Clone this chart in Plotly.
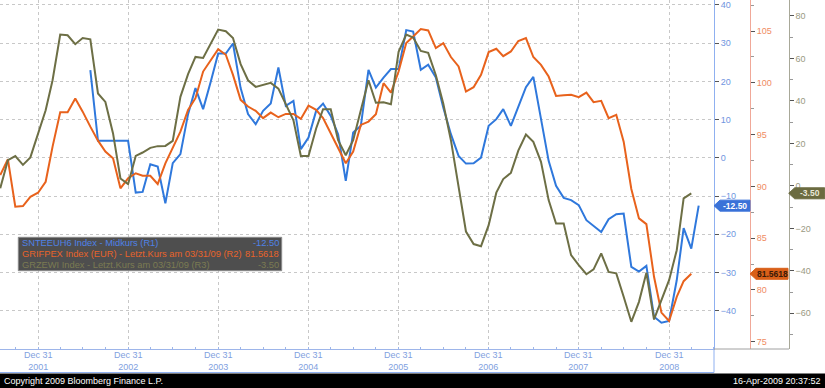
import pandas as pd
import plotly.graph_objects as go

# ---------------- data (monthly, month-end) ----------------
grifpex = [  # R2, Jul 2001 - Mar 2009
    91.10, 92.62, 88.04, 88.10, 89.00, 89.39,
    90.45, 93.84, 97.17, 97.17, 98.48, 97.22, 95.77, 94.42, 93.36, 92.72, 89.82, 90.78,
    91.27, 91.03, 91.03, 90.23, 92.23, 93.78, 95.29, 97.39, 98.52, 101.09, 102.22, 103.26,
    102.71, 100.77, 98.36, 97.71, 97.29, 96.59, 97.13, 96.68, 97.00, 97.00, 96.52, 97.80,
    97.39, 96.59, 95.14, 93.68, 92.23, 93.36, 95.94, 96.26, 96.97, 99.97, 99.06, 101.09,
    103.84, 104.48, 105.19, 105.06, 103.36, 103.84, 102.49, 101.58, 99.16, 99.58, 100.77, 102.97,
    103.29, 102.58, 103.03, 104.04, 104.32, 102.49, 101.74, 100.61, 98.74, 98.81, 98.84, 98.62,
    99.06, 98.13, 98.26, 96.59, 96.91, 94.32, 89.75, 86.91, 86.36, 81.27, 77.82, 77.01,
    79.33, 80.85, 81.5618,
]
grzewi = [  # R3, Jul 2001 - Mar 2009
    -1.1, 12.1, 14.0, 9.9, 13.4, 24.8,
    35.6, 49.7, 71.2, 70.9, 66.7, 69.6, 69.0, 43.5, 39.5, 24.7, 3.5, 0.8,
    14.1, 15.7, 17.9, 18.7, 18.8, 21.2, 41.9, 52.6, 60.7, 60.2, 67.0, 73.6,
    72.8, 69.6, 57.3, 49.7, 46.6, 47.4, 48.5, 45.8, 38.8, 30.9, 14.1, 14.1,
    27.0, 36.1, 36.1, 21.5, 14.4, 21.5, 35.6, 49.7, 39.1, 39.4, 38.4, 63.1,
    71.2, 69.8, 63.5, 62.6, 52.1, 38.8, 21.5, -0.5, -21.5, -27.4, -28.4, -18.5,
    -3.2, 3.2, 6.1, 16.6, 24.2, 20.7, 11.3, -6.7, -17.7, -17.7, -32.6, -37.3,
    -41.6, -39.3, -31.8, -40.5, -41.2, -52.2, -64.0, -54.6, -40.9, -62.9, -53.8, -44.4,
    -30.3, -5.9, -3.50,
]
snteeuh6 = [  # R1, Jul 2002 - Apr 2009
    22.96, 4.45, 4.45, 4.45, 4.45, 4.45,
    -9.08, -8.90, -1.65, -2.28, -11.86, -1.39, 0.97, 11.44, 18.25, 12.75, 19.71, 27.30,
    27.30, 29.92, 18.25, 11.44, 8.82, 12.30, 14.21, 23.64, 13.61, 14.92, 2.28, 5.31,
    12.30, 14.21, 10.99, 6.20, -6.02, 6.62, 8.38, 23.04, 18.40, 21.02, 23.22, 23.22,
    33.43, 33.06, 23.04, 24.35, 21.02, 13.17, 6.20, 0.52, -1.49, -1.39, 0.08, 8.38,
    10.13, 12.75, 8.38, 13.27, 18.51, 21.20, 10.55, -0.79, -7.33, -10.47, -11.05, -12.36,
    -16.31, -17.80, -19.37, -16.05, -14.74, -14.58, -28.53, -29.76, -28.27, -41.54, -43.12, -42.67,
    -32.02, -18.40, -23.74, -12.50,
]
dates_long = pd.date_range("2001-07-31", periods=len(grifpex), freq=pd.offsets.MonthEnd())
dates_blue = pd.date_range("2002-07-31", periods=len(snteeuh6), freq=pd.offsets.MonthEnd())

year_ticks = [f"{y}-12-31" for y in range(2001, 2009)]
year_text = [f"Dec 31<br>{y}" for y in range(2001, 2009)]

legend_names = [
    "SNTEEUH6 Index - Midkurs (R1)",
    "GRIFPEX Index (EUR) - Letzt.Kurs am 03/31/09 (R2)",
    "GRZEWI Index - Letzt.Kurs am 03/31/09 (R3)",
]
last_labels = ["-12.50", "81.5618", "-3.50"]

BLUE = "#2f78dc"
ORANGE = "#e8621c"
OLIVE = "#6d6f45"
FONT = "Liberation Sans, Arial, sans-serif"

W, H = 825, 388
PLOT_BOTTOM = 349  # pixel
def py(pix):  # pixel y -> paper y
    return (PLOT_BOTTOM - pix) / PLOT_BOTTOM
def px(pix):
    return pix / W

fig = go.Figure()
fig.add_trace(go.Scatter(x=dates_blue, y=snteeuh6, mode="lines", yaxis="y",
                         line=dict(color=BLUE, width=2), name=legend_names[0]))
fig.add_trace(go.Scatter(x=dates_long, y=grifpex, mode="lines", yaxis="y2",
                         line=dict(color=ORANGE, width=2), name=legend_names[1]))
fig.add_trace(go.Scatter(x=dates_long, y=grzewi, mode="lines", yaxis="y3",
                         line=dict(color=OLIVE, width=2), name=legend_names[2]))

quarter_ticks = pd.date_range("2001-09-30", "2009-06-30", freq=pd.offsets.QuarterEnd())

fig.update_layout(
    width=W, height=H,
    margin=dict(l=0, r=0, t=0, b=H - PLOT_BOTTOM, pad=0, autoexpand=False),
    paper_bgcolor="white", plot_bgcolor="white",
    showlegend=False,
    font=dict(family=FONT, size=9),
    xaxis=dict(
        domain=[0, px(714)], automargin=False,
        type="date",
        range=["2001-07-30", "2009-07-01"],
        tickmode="array", tickvals=year_ticks, showticklabels=False,
        showgrid=True, gridcolor="#c8c8c8", griddash="dot", gridwidth=1,
        showline=True, linecolor="#9db5ea", linewidth=1,
        ticks="", zeroline=False,
        minor=dict(tickmode="array", tickvals=list(quarter_ticks), ticks="inside",
                   ticklen=2, tickcolor="#9db5ea", showgrid=False),
    ),
    yaxis=dict(
        range=[-50, 41.3], side="right", anchor="x", automargin=False,
        tickmode="array", tickvals=list(range(-40, 41, 10)),
        tickfont=dict(color="#6f95e0", size=9),
        showgrid=True, gridcolor="#c8c8c8", griddash="dot", gridwidth=1,
        showline=True, linecolor="#8fb0f0", linewidth=1,
        ticks="outside", ticklen=4, tickcolor="#555555",
        zeroline=False,
    ),
    yaxis2=dict(
        range=[74.3, 108.0], overlaying="y", anchor="free", position=px(750), side="right",
        automargin=False,
        tickmode="array", tickvals=list(range(75, 106, 5)),
        tickfont=dict(color="#f08c62", size=9),
        showgrid=False, showline=True, linecolor="#f0a898", linewidth=1,
        ticks="outside", ticklen=4, tickcolor="#555555", zeroline=False,
        minor=dict(tickmode="array", tickvals=[77.5, 82.5, 87.5, 92.5, 97.5, 102.5, 107.5],
                   ticks="outside", ticklen=3, tickcolor="#999999", showgrid=False),
    ),
    yaxis3=dict(
        range=[-76.8, 87.5], overlaying="y", anchor="free", position=px(788.7), side="right",
        automargin=False,
        tickmode="array", tickvals=list(range(-60, 81, 20)),
        tickfont=dict(color="#9a9a82", size=9),
        showgrid=False, showline=True, linecolor="#a8a898", linewidth=1,
        ticks="outside", ticklen=4, tickcolor="#555555", zeroline=False,
        minor=dict(tickmode="array", tickvals=[-70, -50, -30, -10, 10, 30, 50, 70],
                   ticks="outside", ticklen=3, tickcolor="#999999", showgrid=False),
    ),
)

shapes = []
# extension of blue axis line and bottom border under x labels
shapes.append(dict(type="line", xref="paper", yref="paper", x0=px(714), x1=px(714),
                   y0=py(349), y1=py(372.5), line=dict(color="#8fb0f0", width=1)))
shapes.append(dict(type="line", xref="paper", yref="paper", x0=0, x1=px(714),
                   y0=py(372.5), y1=py(372.5), line=dict(color="#8fb0f0", width=1)))
shapes.append(dict(type="line", xref="paper", yref="paper", x0=px(714), x1=px(789),
                   y0=py(349), y1=py(349), line=dict(color="#a0a0a0", width=1)))
# footer bar
shapes.append(dict(type="rect", xref="paper", yref="paper", x0=0, x1=1,
                   y0=py(373.5), y1=py(388), fillcolor="black", line=dict(width=0), layer="above"))
# legend box
shapes.append(dict(type="rect", xref="paper", yref="paper", x0=px(18.3), x1=px(281.7),
                   y0=py(270.7), y1=py(237.3), fillcolor="#4e4e4e",
                   line=dict(color="#8a8a8a", width=1), layer="above"))
# value flags
flag_specs = [
    ("y", snteeuh6[-1], 714, 36, "#3a72d8"),
    ("y2", grifpex[-1], 750, 38, "#d95f18"),
    ("y3", grzewi[-1], 788.7, 36, "#6b6b40"),
]
for yref, val, xpix, wpix, col in flag_specs:
    shapes.append(dict(type="path", xref="paper", yref=yref,
                       xsizemode="pixel", ysizemode="pixel",
                       xanchor=px(xpix), yanchor=val,
                       path=f"M0,0 L6,5.5 L{wpix},5.5 L{wpix},-5.5 L6,-5.5 Z",
                       fillcolor=col, line=dict(color=col, width=1), layer="above"))
fig.update_layout(shapes=shapes)

ann = []
# x-axis date labels (two lines), placed on the date axis
for tv, tt in zip(year_ticks, year_text):
    ann.append(dict(xref="x", yref="paper", x=tv, y=py(361), text=tt,
                    showarrow=False, xanchor="center", yanchor="middle",
                    font=dict(family=FONT, size=9, color="#7f9fe0")))

flag_text_colors = ["white", "#3a1a08", "#e8e8d8"]
for (yref, val, xpix, wpix, col), txt, tc in zip(flag_specs, last_labels, flag_text_colors):
    ann.append(dict(xref="paper", yref=yref, x=px(xpix + 3 + wpix / 2), y=val,
                    text=f"<b>{txt}</b>", showarrow=False, xanchor="center", yanchor="middle",
                    font=dict(family=FONT, size=8.5, color=tc)))

legend_colors = ["#4f82e6", "#e8642a", "#7b7b52"]
for i, (name, val, c) in enumerate(zip(legend_names, last_labels, legend_colors)):
    ypix = 243.0 + i * 10.8
    ann.append(dict(xref="paper", yref="paper", x=px(19.5), y=py(ypix), text=name,
                    showarrow=False, xanchor="left", yanchor="middle",
                    font=dict(family=FONT, size=9.3, color=c)))
    ann.append(dict(xref="paper", yref="paper", x=px(280.5), y=py(ypix), text=val,
                    showarrow=False, xanchor="right", yanchor="middle",
                    font=dict(family=FONT, size=9.3, color=c)))

ann.append(dict(xref="paper", yref="paper", x=px(2), y=py(381), text="Copyright 2009 Bloomberg Finance L.P.",
                showarrow=False, xanchor="left", yanchor="middle",
                font=dict(family=FONT, size=9, color="white")))
ann.append(dict(xref="paper", yref="paper", x=px(823), y=py(381), text="16-Apr-2009 20:37:52",
                showarrow=False, xanchor="right", yanchor="middle",
                font=dict(family=FONT, size=9, color="white")))
fig.update_layout(annotations=ann)

fig.write_html("out.html", config={"displayModeBar": False},
               post_script="document.body.style.margin='0';document.body.style.overflow='hidden';")
